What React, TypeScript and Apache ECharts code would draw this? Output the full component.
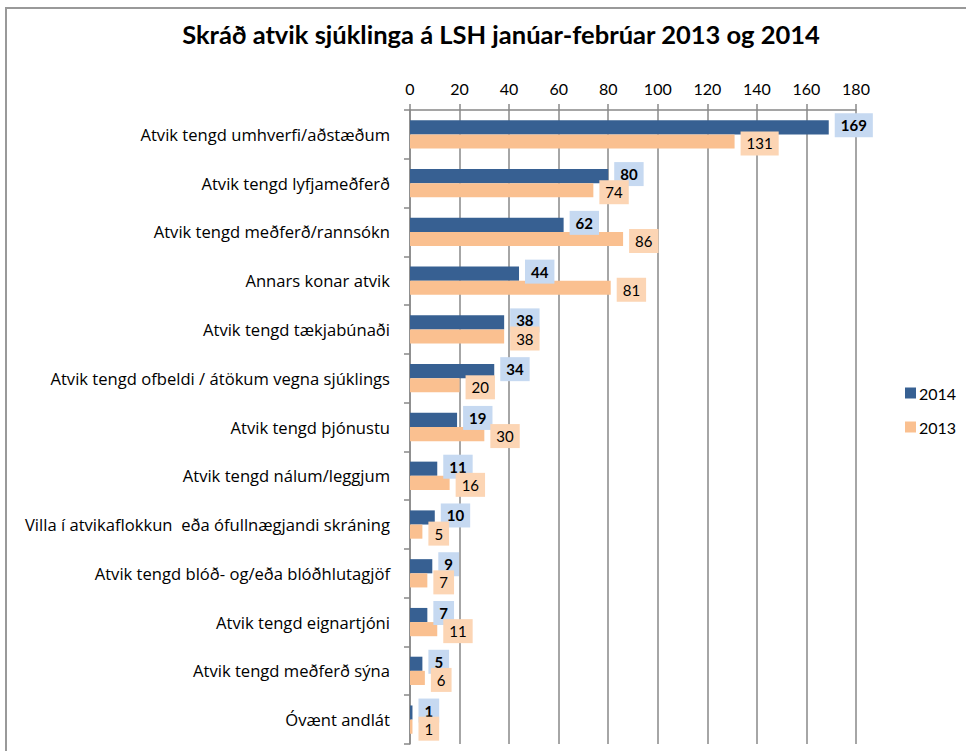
import React, { useEffect, useRef } from "react";
import * as echarts from "echarts";

const categories = [
  "Atvik tengd umhverfi/aðstæðum",
  "Atvik tengd lyfjameðferð",
  "Atvik tengd meðferð/rannsókn",
  "Annars konar atvik",
  "Atvik tengd tækjabúnaði",
  "Atvik tengd ofbeldi / átökum vegna sjúklings",
  "Atvik tengd þjónustu",
  "Atvik tengd nálum/leggjum",
  "Villa í atvikaflokkun  eða ófullnægjandi skráning",
  "Atvik tengd blóð- og/eða blóðhlutagjöf",
  "Atvik tengd eignartjóni",
  "Atvik tengd meðferð sýna",
  "Óvænt andlát",
];
const values2014 = [169, 80, 62, 44, 38, 34, 19, 11, 10, 9, 7, 5, 1];
const values2013 = [131, 74, 86, 81, 38, 20, 30, 16, 5, 7, 11, 6, 1];
const seriesNames = ["2014", "2013"];
const title = "Skráð atvik sjúklinga á LSH janúar-febrúar 2013 og 2014";

const FONT = "Lato, 'Liberation Sans', sans-serif";
const CAT_FONT = "'Open Sans', Lato, sans-serif";

export default function App() {
  const ref = useRef<HTMLDivElement>(null);
  useEffect(() => {
    if (!ref.current) return;
    const chart = echarts.init(ref.current, null, { renderer: "svg" });
    chart.setOption({
      animation: false,
      backgroundColor: "#ffffff",
      textStyle: { fontFamily: FONT },
      title: {
        text: title,
        left: 496,
        top: 16,
        textAlign: "center",
        textStyle: { fontFamily: FONT, fontSize: 25.5, fontWeight: "bold", color: "#000" },
      },
      graphic: [
        {
          type: "rect",
          shape: { x: 6, y: 8, width: 1100, height: 900 },
          style: { fill: "none", stroke: "#999", lineWidth: 2 },
          silent: true,
        },
      ],
      legend: {
        orient: "vertical",
        left: 900,
        top: 380,
        itemWidth: 11,
        itemHeight: 11,
        itemGap: 18,
        icon: "rect",
        textStyle: { fontFamily: FONT, fontSize: 16, color: "#000", padding: [0, 0, 0, -2] },
        data: seriesNames,
      },
      grid: { left: 410, right: 110, top: 110, bottom: 7, containLabel: false },
      xAxis: {
        type: "value",
        position: "top",
        min: 0,
        max: 180,
        interval: 20,
        axisLine: { show: true, lineStyle: { color: "#888", width: 1.5 } },
        axisTick: { show: true, length: 6, lineStyle: { color: "#888", width: 1.5 } },
        axisLabel: { fontFamily: FONT, fontSize: 16, color: "#000", margin: 14 },
        splitLine: { show: true, lineStyle: { color: "#888", width: 1.5 } },
      },
      yAxis: {
        type: "category",
        inverse: true,
        data: categories,
        axisLine: { show: true, lineStyle: { color: "#888", width: 1.5 } },
        axisTick: { show: true, length: 6, lineStyle: { color: "#888", width: 1.5 } },
        axisLabel: { fontFamily: CAT_FONT, fontSize: 16.6, color: "#000", margin: 20 },
      },
      series: [
        {
          name: seriesNames[0],
          type: "bar",
          data: values2014,
          itemStyle: { color: "#376092" },
          barGap: "0%",
          barCategoryGap: "42%",
          label: {
            show: true,
            position: "right",
            distance: 6,
            offset: [0, -2],
            fontFamily: FONT,
            fontSize: 15,
            fontWeight: "bold",
            color: "#000",
            backgroundColor: "#C6D9F1",
            padding: [5, 6, 4, 6],
          },
        },
        {
          name: seriesNames[1],
          type: "bar",
          data: values2013,
          itemStyle: { color: "#FAC090" },
          label: {
            show: true,
            position: "right",
            distance: 6,
            offset: [0, 2],
            fontFamily: FONT,
            fontSize: 15,
            color: "#000",
            backgroundColor: "#FCD5B4",
            padding: [5, 6, 4, 6],
          },
        },
      ],
    });
    return () => chart.dispose();
  }, []);
  return (
    <div
      ref={ref}
      style={{ position: "fixed", left: 0, top: 0, width: 966, height: 751 }}
    />
  );
}
